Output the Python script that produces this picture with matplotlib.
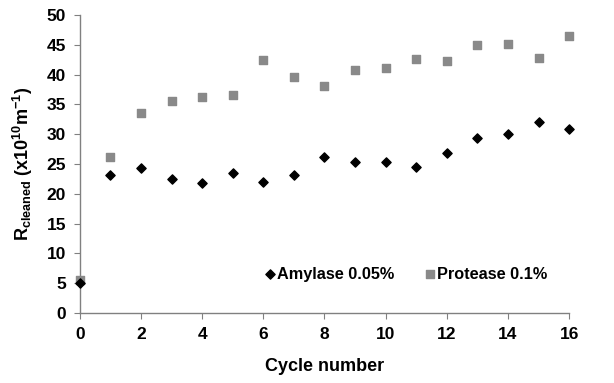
import matplotlib
matplotlib.use("Agg")
import matplotlib.pyplot as plt

plt.rcParams['font.family'] = ['Liberation Sans', 'DejaVu Sans']
plt.rcParams['mathtext.fontset'] = 'custom'
plt.rcParams['mathtext.rm'] = 'Liberation Sans:bold'
plt.rcParams['mathtext.bf'] = 'Liberation Sans:bold'
plt.rcParams['mathtext.it'] = 'Liberation Sans:bold'

cycles = list(range(17))
amylase = [5.0, 23.2, 24.3, 22.5, 21.8, 23.4, 21.9, 23.2, 26.1, 25.4, 25.3, 24.4, 26.9, 29.3, 30.1, 32.0, 30.9]
protease = [5.6, 26.1, 33.6, 35.6, 36.2, 36.5, 42.5, 39.6, 38.0, 40.7, 41.1, 42.6, 42.2, 45.0, 45.2, 42.7, 46.4]
x_ticks = [0, 2, 4, 6, 8, 10, 12, 14, 16]
y_ticks = [0, 5, 10, 15, 20, 25, 30, 35, 40, 45, 50]

fig = plt.figure(figsize=(6.14, 3.83), dpi=100)
ax = fig.add_axes([0.130, 0.183, 0.797, 0.778])

ax.scatter(cycles, protease, marker='s', s=32, color='#898989', label='Protease 0.1%', zorder=3, clip_on=False)
ax.scatter(cycles, amylase, marker='D', s=22, color='black', label='Amylase 0.05%', zorder=4, clip_on=False)

ax.set_xlim(0, 16)
ax.set_ylim(0, 50)
ax.set_xticks(x_ticks)
ax.set_yticks(y_ticks)
for s in ['top', 'right']:
    ax.spines[s].set_visible(False)
for s in ['left', 'bottom']:
    ax.spines[s].set_color('#808080')
    ax.spines[s].set_linewidth(1.0)
ax.tick_params(axis='both', direction='out', length=4, color='#808080', labelsize=12.5, pad=6)
for lab in ax.get_xticklabels() + ax.get_yticklabels():
    lab.set_fontweight('bold')

ax.set_xlabel('Cycle number', fontsize=13, fontweight='bold', labelpad=12)
ax.set_ylabel(r'R$_{\mathrm{cleaned}}$ (x10$^{10}$m$^{-1}$)', fontsize=13, fontweight='bold', labelpad=8)

handles, labels = ax.get_legend_handles_labels()
leg = ax.legend([handles[1], handles[0]], [labels[1], labels[0]], ncol=2, frameon=False,
                loc='center', bbox_to_anchor=(0.665, 0.13), handletextpad=0.05,
                columnspacing=1.8, handlelength=0.8, prop={'weight': 'bold', 'size': 11.7})

fig.savefig('out.png', dpi=100)
